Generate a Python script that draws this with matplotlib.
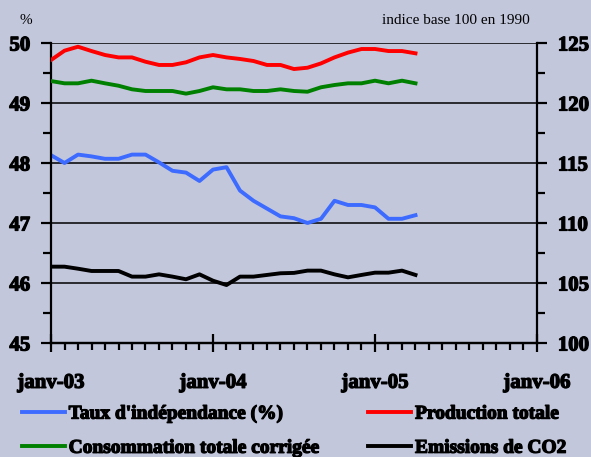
import numpy as np
import matplotlib.pyplot as plt
import matplotlib.patheffects as pe
from matplotlib.ticker import MultipleLocator, FixedLocator

# monthly values, janv-03 .. avr-05
months = np.arange(28)
taux = [48.13, 48.00, 48.14, 48.11, 48.07, 48.07, 48.14, 48.14, 48.01, 47.87,
        47.84, 47.70, 47.89, 47.93, 47.54, 47.37, 47.24, 47.11, 47.08, 47.00,
        47.07, 47.37, 47.30, 47.30, 47.26, 47.07, 47.07, 47.13]
production = [123.58, 124.36, 124.69, 124.33, 124.00, 123.80, 123.80, 123.44, 123.17, 123.17,
              123.39, 123.80, 124.00, 123.80, 123.67, 123.50, 123.17, 123.17, 122.83, 122.94,
              123.30, 123.80, 124.20, 124.50, 124.50, 124.33, 124.33, 124.14]
consommation = [121.83, 121.64, 121.64, 121.86, 121.64, 121.44, 121.14, 121.00, 121.00, 121.00,
                120.78, 121.00, 121.31, 121.14, 121.14, 121.00, 121.00, 121.14, 121.00, 120.94,
                121.31, 121.50, 121.64, 121.64, 121.86, 121.64, 121.86, 121.64]
co2 = [106.36, 106.36, 106.19, 106.00, 106.00, 106.00, 105.53, 105.53, 105.72, 105.53,
       105.31, 105.72, 105.19, 104.83, 105.53, 105.53, 105.67, 105.81, 105.84, 106.03,
       106.03, 105.72, 105.47, 105.67, 105.86, 105.86, 106.03, 105.67]

year_ticks = [0, 12, 24, 36]
year_labels = ["janv-03", "janv-04", "janv-05", "janv-06"]

bg = "#c2c7dc"
plt.rcParams['font.family'] = ['Liberation Serif', 'DejaVu Serif']
plt.rcParams['font.weight'] = 'bold'
# the serif bold face does not come through, so thicken the glyphs a bit
heavy = [pe.withStroke(linewidth=0.9, foreground='black')]

fig = plt.figure(figsize=(5.91, 4.57), dpi=100, facecolor=bg)
ax = fig.add_axes([0.0863, 0.2495, 0.8223, 0.6564], facecolor=bg)
ax2 = ax.twinx()

l1, = ax.plot(months, taux, color="#3d6bff", lw=2.8, label="Taux d'indépendance (%)")
l2, = ax2.plot(months, production, color="#ff0000", lw=2.8, label="Production totale")
l3, = ax2.plot(months, consommation, color="#008000", lw=2.8, label="Consommation totale corrigée")
l4, = ax2.plot(months, co2, color="black", lw=2.8, label="Emissions de CO2")

ax.set_xlim(0, 36)
ax.set_ylim(45, 50)
ax2.set_ylim(100, 125)

ax.yaxis.set_major_locator(MultipleLocator(1))
ax.yaxis.set_minor_locator(MultipleLocator(0.5))
ax2.yaxis.set_major_locator(MultipleLocator(5))
ax2.yaxis.set_minor_locator(MultipleLocator(2.5))
ax.grid(axis='y', which='major', color='black', lw=1.1)

ax.xaxis.set_major_locator(FixedLocator(year_ticks))
ax.set_xticklabels(year_labels)
ax.xaxis.set_minor_locator(MultipleLocator(1))

for a in (ax, ax2):
    a.spines['top'].set_visible(False)
    for s in a.spines.values():
        s.set_linewidth(1.6)
ax2.spines['left'].set_visible(False)
ax.spines['right'].set_visible(False)

ax.tick_params(axis='y', which='major', length=7, width=1.6, pad=8, labelsize=15)
ax.tick_params(axis='y', which='minor', length=6, width=1.6)
ax2.tick_params(axis='y', which='major', length=7, width=1.6, pad=8, labelsize=15)
ax2.tick_params(axis='y', which='minor', length=6, width=1.6)
ax.tick_params(axis='x', which='major', direction='inout', length=13, width=1.6, pad=15, labelsize=15)
ax.tick_params(axis='x', which='minor', direction='out', length=5, width=1.6)

fig.text(20 / 591, 1 - 20 / 457, "%", fontsize=11, fontweight='normal', va='center')
fig.text(382 / 591, 1 - 20 / 457, "indice base 100 en 1990", fontsize=11,
         fontweight='normal', va='center')

leg = fig.legend([l1, l3, l2, l4], [l1.get_label(), l3.get_label(), l2.get_label(), l4.get_label()],
                 ncol=2, loc='upper left', bbox_to_anchor=(22 / 591, 1 - 405 / 457),
                 frameon=False, borderpad=0, borderaxespad=0, handlelength=2.2,
                 handletextpad=0.2, columnspacing=2.5, labelspacing=0.85,
                 prop={'size': 14, 'weight': 'bold'})

fig.canvas.draw()
for t in ax.get_xticklabels() + ax.get_yticklabels() + ax2.get_yticklabels() + leg.get_texts():
    t.set_path_effects(heavy)

fig.savefig("out.png", dpi=100, facecolor=bg)
